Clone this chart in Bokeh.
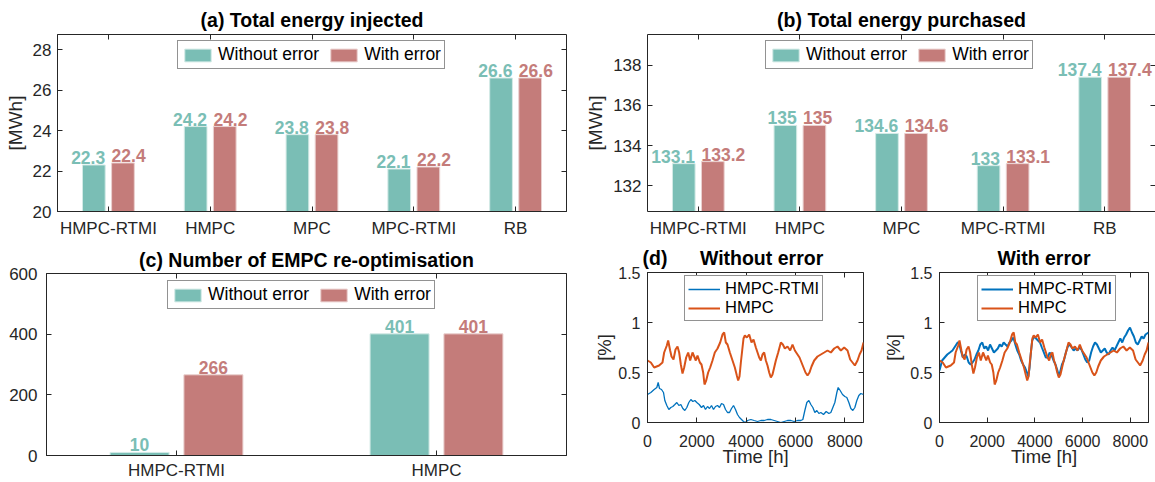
from bokeh.plotting import figure
from bokeh.models import (Range1d, LinearAxis, FixedTicker, Legend, LegendItem, ColumnDataSource)
from bokeh.transform import dodge
from bokeh.layouts import row, column
from bokeh.embed import file_html
from bokeh.resources import INLINE
from bokeh.core.properties import value

# ---------------- data ----------------
methods5 = ["HMPC-RTMI", "HMPC", "MPC", "MPC-RTMI", "RB"]
injected_without = [22.3, 24.2, 23.8, 22.1, 26.6]
injected_with = [22.4, 24.2, 23.8, 22.2, 26.6]
purchased_without = [133.1, 135, 134.6, 133, 137.4]
purchased_with = [133.2, 135, 134.6, 133.1, 137.4]
methods2 = ["HMPC-RTMI", "HMPC"]
reopt_without = [10, 401]
reopt_with = [266, 401]

# HMPC (same curve in both "without error" and "with error")
hmpc_t = [0, 135, 270, 470, 608, 676, 784, 838, 919, 973, 1054, 1136, 1217, 1284, 1352,
          1420, 1487, 1568, 1650, 1730, 1825, 1893, 1960, 2028, 2123, 2190, 2258, 2312, 2380, 2460,
          2542, 2636, 2730, 2840, 2947, 3042, 3110, 3177, 3245, 3340, 3448, 3542, 3623, 3677, 3731,
          3786, 3840, 3894, 3948, 4029, 4124, 4218, 4300, 4394, 4462, 4530, 4597, 4664, 4732, 4800,
          4867, 4935, 5002, 5070, 5138, 5205, 5300, 5408, 5489, 5570, 5678, 5786, 5881, 5976, 6084,
          6165, 6246, 6327, 6408, 6490, 6570, 6652, 6760, 6895, 7030, 7166, 7301, 7436, 7571, 7706,
          7842, 7977, 8112, 8220, 8315, 8409, 8517, 8600, 8680, 8760]
hmpc_v = [0.62, 0.6, 0.55, 0.57, 0.6, 0.7, 0.77, 0.82, 0.72, 0.66, 0.63, 0.73, 0.76, 0.7, 0.58,
          0.49, 0.55, 0.65, 0.7, 0.62, 0.7, 0.66, 0.62, 0.67, 0.6, 0.58, 0.5, 0.38, 0.42, 0.5,
          0.55, 0.62, 0.7, 0.74, 0.8, 0.88, 0.9, 0.8, 0.78, 0.7, 0.62, 0.55, 0.47, 0.42, 0.46,
          0.6, 0.72, 0.84, 0.87, 0.85, 0.88, 0.8, 0.83, 0.75, 0.7, 0.65, 0.62, 0.68, 0.7, 0.62,
          0.57, 0.5, 0.45, 0.48, 0.55, 0.62, 0.7, 0.8, 0.78, 0.74, 0.76, 0.72, 0.78, 0.72, 0.68,
          0.65, 0.6, 0.55, 0.5, 0.47, 0.5, 0.56, 0.62, 0.66, 0.68, 0.7, 0.72, 0.7, 0.74, 0.76,
          0.72, 0.75, 0.72, 0.63, 0.6, 0.57, 0.62, 0.68, 0.72, 0.8]

# HMPC-RTMI without error
rtmi_wo_t = [0, 135, 270, 378, 433, 487, 568, 649, 703, 784, 865, 946, 1027, 1109, 1190,
             1271, 1352, 1433, 1514, 1595, 1676, 1758, 1838, 1920, 2000, 2096, 2190, 2271, 2352, 2434,
             2515, 2596, 2677, 2758, 2840, 2920, 3001, 3083, 3164, 3245, 3326, 3407, 3488, 3569, 3650,
             3731, 3813, 3894, 3975, 4056, 4191, 4326, 4462, 4597, 4732, 4867, 5002, 5138, 5272, 5408,
             5543, 5678, 5813, 5948, 6084, 6219, 6300, 6381, 6462, 6544, 6625, 6706, 6787, 6868, 6949,
             7030, 7138, 7247, 7355, 7436, 7517, 7598, 7679, 7733, 7814, 7909, 8003, 8084, 8166, 8247,
             8328, 8409, 8490, 8571, 8652, 8760]
rtmi_wo_v = [0.28, 0.3, 0.33, 0.35, 0.4, 0.34, 0.33, 0.3, 0.22, 0.17, 0.13, 0.15, 0.16, 0.18, 0.2,
             0.17, 0.18, 0.14, 0.12, 0.15, 0.2, 0.23, 0.21, 0.22, 0.2, 0.18, 0.15, 0.17, 0.13, 0.16,
             0.14, 0.17, 0.13, 0.16, 0.17, 0.15, 0.19, 0.18, 0.13, 0.1, 0.1, 0.14, 0.17, 0.13, 0.08,
             0.05, 0.03, 0.01, 0.0, 0.02, 0.03, 0.02, 0.01, 0.02, 0.02, 0.03, 0.03, 0.02, 0.01, 0.0,
             0.01, 0.02, 0.02, 0.01, 0.02, 0.02, 0.03, 0.12, 0.2, 0.22, 0.18, 0.15, 0.1, 0.12, 0.09,
             0.1, 0.08, 0.11, 0.09, 0.1, 0.15, 0.2, 0.3, 0.35, 0.32, 0.28, 0.26, 0.25, 0.2, 0.14,
             0.12, 0.15, 0.22, 0.27, 0.29, 0.28]

# HMPC-RTMI with error
rtmi_wi_t = [0, 109, 217, 326, 435, 543, 652, 760, 815, 896, 978, 1059, 1141, 1222, 1304,
             1385, 1467, 1548, 1630, 1711, 1793, 1874, 1955, 2037, 2118, 2200, 2281, 2363, 2444, 2526,
             2607, 2689, 2770, 2852, 2933, 3015, 3096, 3178, 3259, 3341, 3422, 3504, 3585, 3667, 3721,
             3775, 3830, 3884, 3965, 4047, 4128, 4210, 4291, 4373, 4454, 4536, 4617, 4699, 4780, 4862,
             4943, 4997, 5052, 5133, 5215, 5296, 5378, 5459, 5541, 5622, 5704, 5785, 5867, 5948, 6030,
             6111, 6193, 6274, 6355, 6437, 6518, 6600, 6681, 6763, 6844, 6926, 7007, 7089, 7170, 7252,
             7333, 7415, 7496, 7578, 7659, 7741, 7822, 7903, 7985, 8066, 8148, 8230, 8311, 8392, 8474,
             8555, 8637, 8760]
rtmi_wi_v = [0.52, 0.62, 0.65, 0.68, 0.7, 0.72, 0.76, 0.8, 0.8, 0.72, 0.65, 0.68, 0.66, 0.6, 0.58,
             0.6, 0.63, 0.68, 0.72, 0.78, 0.8, 0.74, 0.76, 0.72, 0.78, 0.74, 0.7, 0.72, 0.74, 0.78,
             0.76, 0.8, 0.78, 0.76, 0.8, 0.82, 0.85, 0.78, 0.72, 0.68, 0.62, 0.58, 0.55, 0.5, 0.46,
             0.55, 0.7, 0.82, 0.86, 0.84, 0.82, 0.8, 0.75, 0.7, 0.65, 0.65, 0.7, 0.67, 0.62, 0.58,
             0.52, 0.47, 0.5, 0.58, 0.62, 0.7, 0.76, 0.78, 0.75, 0.72, 0.74, 0.72, 0.75, 0.73, 0.68,
             0.63, 0.6, 0.62, 0.7, 0.76, 0.8, 0.78, 0.74, 0.7, 0.72, 0.74, 0.7, 0.68, 0.72, 0.75,
             0.72, 0.76, 0.8, 0.84, 0.8, 0.85, 0.88, 0.92, 0.95, 0.9, 0.86, 0.8, 0.78, 0.82, 0.86,
             0.84, 0.88, 0.9]

time_ticks = [0, 2000, 4000, 6000, 8000]
share_ticks = [0, 0.5, 1, 1.5]

# ---------------- style ----------------
INK = "#262626"
FONT = "Liberation Sans"
TEAL = "#7ABEB5"
RED = "#C47C7A"
BLUE = "#0072BD"
ORANGE = "#D95319"
NBSP = "\u00a0"


def style_main_axis(ax, tick_size, label_size, standoff):
    ax.axis_line_color = INK
    ax.major_tick_line_color = INK
    ax.major_tick_in = 5
    ax.major_tick_out = 0
    ax.minor_tick_line_color = None
    ax.major_label_text_font = FONT
    ax.major_label_text_font_size = tick_size
    ax.major_label_text_color = INK
    ax.axis_label_text_font = FONT
    ax.axis_label_text_font_size = label_size
    ax.axis_label_text_font_style = "normal"
    ax.axis_label_text_color = INK
    ax.major_label_standoff = standoff


def hidden_axis(ax, ticks, line=False):
    ax.ticker = FixedTicker(ticks=ticks)
    ax.major_label_overrides = {t: "" for t in ticks}
    ax.major_label_text_font_size = "1px"
    ax.major_label_standoff = 0
    ax.major_tick_in = 5
    ax.major_tick_out = 0
    ax.minor_tick_line_color = None
    ax.axis_line_color = INK if line else None
    ax.major_tick_line_color = INK
    return ax


def base_style(p, title, title_standoff, outline=True):
    p.outline_line_color = INK if outline else None
    p.outline_line_width = 1
    p.grid.visible = False
    p.background_fill_color = "white"
    p.border_fill_color = "white"
    p.title.text = title
    p.title.text_font = FONT
    p.title.text_font_size = "19.5px"
    p.title.text_font_style = "bold"
    p.title.text_color = "black"
    p.title.align = "center"
    p.title.standoff = title_standoff


def bar_panel(cats, wo, wi, y0, y1, yticks, title, ylabel, width, height, borders,
              leg_loc, bar_w, off, ytick_standoff, xtick_standoff, title_standoff,
              edge_labels, outline=True):
    bl, br, bt, bb = borders
    n = len(cats)
    idx = list(range(1, n + 1))
    p = figure(x_range=Range1d(0.5, n + 0.5), y_range=Range1d(y0, y1),
               width=width, height=height, output_backend="svg", toolbar_location=None,
               min_border_left=bl, min_border_right=br, min_border_top=bt, min_border_bottom=bb)
    src = ColumnDataSource(dict(idx=idx, wo=wo, wi=wi,
                                lwo=[f"{v:g}" for v in wo], lwi=[f"{v:g}" for v in wi]))
    bottom = y0 - (y1 - y0) * 0.02
    r1 = p.vbar(x=dodge("idx", -off), top="wo", bottom=bottom, width=bar_w,
                fill_color=TEAL, line_color="#D3EAE6", line_width=1, source=src)
    r2 = p.vbar(x=dodge("idx", off), top="wi", bottom=bottom, width=bar_w,
                fill_color=RED, line_color="#EAD0CF", line_width=1, source=src)
    if edge_labels:
        inner = off - bar_w / 2
        specs = (("wo", "lwo", -inner, TEAL, "right"), ("wi", "lwi", inner, RED, "left"))
    else:
        specs = (("wo", "lwo", -off, TEAL, "center"), ("wi", "lwi", off, RED, "center"))
    for col, lab, dx, c, al in specs:
        p.text(x=dodge("idx", dx), y=col, text=lab, source=src,
               text_align=al, text_baseline="bottom", y_offset=-1,
               text_font=value(FONT), text_font_style="bold", text_font_size="17.5px",
               text_color=c)
    base_style(p, title, title_standoff, outline)
    style_main_axis(p.below[0], "17px", "19px", xtick_standoff)
    style_main_axis(p.left[0], "17px", "19px", ytick_standoff)
    p.below[0].ticker = FixedTicker(ticks=idx)
    p.below[0].major_label_overrides = {i: c for i, c in zip(idx, cats)}
    p.left[0].ticker = FixedTicker(ticks=yticks)
    p.add_layout(hidden_axis(LinearAxis(), idx, line=not outline), "above")
    p.add_layout(hidden_axis(LinearAxis(), yticks), "right")
    if ylabel:
        p.left[0].axis_label = ylabel
        p.left[0].axis_label_standoff = 4
    leg = Legend(items=[LegendItem(label="Without error", renderers=[r1]),
                        LegendItem(label="With error", renderers=[r2])],
                 orientation="horizontal", location=leg_loc, glyph_width=33, glyph_height=16,
                 label_standoff=4, spacing=8, padding=3, margin=0, label_height=20,
                 label_text_font=FONT, label_text_font_size="17.5px", label_text_color="black",
                 border_line_color=INK, border_line_width=1, background_fill_color="white",
                 background_fill_alpha=1)
    p.add_layout(leg)
    return p


def line_panel(title, series, width, height, borders, leg_loc, title_align="center",
               title_offset=0, ylabel_standoff=3):
    bl, br, bt, bb = borders
    p = figure(x_range=Range1d(0, 8760), y_range=Range1d(0, 1.5), width=width, height=height,
               output_backend="svg", toolbar_location=None,
               min_border_left=bl, min_border_right=br, min_border_top=bt, min_border_bottom=bb)
    items = []
    for lab, t, v, c, lw in series:
        r = p.line(t, v, line_color=c, line_width=lw)
        items.append((lab, r))
    base_style(p, title, 7)
    p.title.align = title_align
    p.title.offset = title_offset
    style_main_axis(p.below[0], "16px", "18.5px", 12)
    style_main_axis(p.left[0], "16px", "18.5px", 7)
    p.below[0].ticker = FixedTicker(ticks=time_ticks)
    p.left[0].ticker = FixedTicker(ticks=share_ticks)
    p.left[0].major_label_overrides = {t: f"{t:g}" for t in share_ticks}
    p.below[0].axis_label = "Time [h]"
    p.below[0].axis_label_standoff = -4
    p.left[0].axis_label = "[%]"
    p.left[0].axis_label_standoff = ylabel_standoff
    p.add_layout(hidden_axis(LinearAxis(), time_ticks), "above")
    p.add_layout(hidden_axis(LinearAxis(), share_ticks), "right")
    leg = Legend(items=[LegendItem(label=l, renderers=[r]) for l, r in items],
                 orientation="vertical", location=leg_loc, glyph_width=32, glyph_height=18,
                 label_standoff=5, spacing=0, padding=3, margin=0, label_height=19,
                 label_text_font=FONT, label_text_font_size="16.5px", label_text_color="black",
                 border_line_color=INK, border_line_width=1, background_fill_color="white",
                 background_fill_alpha=1)
    p.add_layout(leg)
    return p


pa = bar_panel(methods5, injected_without, injected_with, 20, 28.75, [20, 22, 24, 26, 28],
               "(a) Total energy injected", "[MWh]", 580, 240, (57, 14, 34, 27),
               (120, 142), 0.223, 0.143, 6, 7, 7, True)
pb = bar_panel(methods5, purchased_without, purchased_with, 130.72, 139.52, [132, 134, 136, 138],
               "(b) Total energy purchased", "[MWh]", 575, 240, (67, 0, 34, 27),
               (118, 142), 0.223, 0.143, 6, 7, 7, True, outline=False)
pc = bar_panel(methods2, reopt_without, reopt_with, 0, 600, [0, 200, 400, 600],
               "(c) Number of EMPC re-optimisation", None, 580, 242, (46, 14, 33, 26),
               (121, 146), 0.227, 0.142, 9, 5, 6, False)
pd1 = line_panel("(d)" + NBSP * 6 + "Without error",
                 [("HMPC-RTMI", rtmi_wo_t, rtmi_wo_v, BLUE, 1.3),
                  ("HMPC", hmpc_t, hmpc_v, ORANGE, 2.0)],
                 300, 242, (67, 17, 32, 60), (37, 101), title_align="left", title_offset=-5,
                 ylabel_standoff=0)
pd2 = line_panel("With error",
                 [("HMPC-RTMI", rtmi_wi_t, rtmi_wi_v, BLUE, 2.0),
                  ("HMPC", hmpc_t, hmpc_v, ORANGE, 2.0)],
                 275, 242, (53, 7, 32, 60), (38, 101), title_offset=-3, ylabel_standoff=3)

layout = column(row(column(pa), column(pb)), row(column(pc), row(pd1, pd2)))

open("out.html", "w").write(file_html(layout, INLINE))
